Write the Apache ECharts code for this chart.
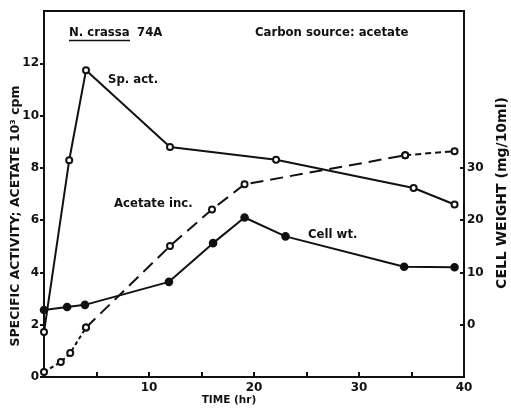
<!DOCTYPE html>
<html>
<head>
<meta charset="utf-8">
<script src="https://cdn.jsdelivr.net/npm/echarts@6/dist/echarts.min.js"></script>
<style>
html,body{margin:0;padding:0;background:#fff;}
#chart{width:511px;height:408px;}
</style>
</head>
<body>
<div id="chart"></div>
<script>
// Data
const spActHours = [0, 2.4, 4.0, 12.0, 22.1, 35.2, 39.1];
const spActValues = [1.72, 8.29, 11.73, 8.80, 8.31, 7.23, 6.6];

const acetateHours = [0, 1.6, 2.5, 4.0, 12.0, 16.0, 19.1, 34.4, 39.1];
const acetateValues = [0.19, 0.57, 0.92, 1.89, 5.01, 6.41, 7.37, 8.48, 8.64];

const cellHours = [0, 2.2, 3.9, 11.9, 16.1, 19.1, 23.0, 34.3, 39.1];
const cellValues = [2.8, 3.4, 3.8, 8.2, 15.6, 20.5, 16.9, 11.1, 11.0];

const xTickLabels = [10, 20, 30, 40];
const leftTickLabels = [0, 2, 4, 6, 8, 10, 12];
const rightTickLabels = [0, 10, 20, 30];

const pairs = (xs, ys) => xs.map((x, i) => [x, ys[i]]);
const acetatePts = pairs(acetateHours, acetateValues);

const ink = '#111';
const font = 'DejaVu Sans';

const chart = echarts.init(document.getElementById('chart'));

function lineSeries(name, data, yIdx, symbol, size, dash, z) {
  return {
    name, type: 'line', data, yAxisIndex: yIdx, clip: false, z: z || 2,
    symbol, symbolSize: size, showSymbol: true,
    lineStyle: { color: ink, width: 2, type: dash },
    itemStyle: { color: ink, borderColor: ink, borderWidth: 1.6 },
    emphasis: { disabled: true },
    animation: false
  };
}

chart.setOption({
  backgroundColor: '#fff',
  animation: false,
  grid: { left: 44, right: 47, top: 11, bottom: 31, show: true, borderColor: ink, borderWidth: 2, backgroundColor: 'transparent' },
  xAxis: {
    type: 'value', min: 0, max: 40, interval: 5,
    axisLine: { lineStyle: { color: ink, width: 2 } },
    axisTick: { inside: true, length: 5, lineStyle: { color: ink, width: 2 } },
    axisLabel: {
      color: ink, fontFamily: font, fontWeight: 'bold', fontSize: 12, margin: 5,
      formatter: v => xTickLabels.includes(v) ? String(v) : ''
    },
    splitLine: { show: false }
  },
  yAxis: [
    {
      type: 'value', min: 0, max: 14, interval: 2,
      axisLine: { show: true, lineStyle: { color: ink, width: 2 } },
      axisTick: { show: true, length: 4, lineStyle: { color: ink, width: 2 }, customValues: leftTickLabels },
      axisLabel: { color: ink, fontFamily: font, fontWeight: 'bold', fontSize: 12, margin: 5, customValues: leftTickLabels },
      splitLine: { show: false }
    },
    {
      type: 'value', min: -10, max: 60, interval: 10, position: 'right',
      axisLine: { show: true, lineStyle: { color: ink, width: 2 } },
      axisTick: { show: true, inside: true, length: 4, lineStyle: { color: ink, width: 2 }, customValues: rightTickLabels },
      axisLabel: { color: ink, fontFamily: font, fontWeight: 'bold', fontSize: 12, margin: 3, customValues: rightTickLabels },
      splitLine: { show: false }
    }
  ],
  series: [
    lineSeries('Sp. act.', pairs(spActHours, spActValues), 0, 'emptyCircle', 6, 'solid', 3),
    lineSeries('Acetate inc. a', acetatePts.slice(0, 4), 0, 'emptyCircle', 6, [4, 3], 3),
    lineSeries('Acetate inc. b', acetatePts.slice(3, 8), 0, 'emptyCircle', 6, [13, 7], 3),
    lineSeries('Acetate inc. c', acetatePts.slice(7), 0, 'emptyCircle', 6, [6, 4], 3),
    lineSeries('Cell wt.', pairs(cellHours, cellValues), 1, 'circle', 7, 'solid', 2)
  ],
  graphic: [
    { type: 'text', left: 69, top: 27, style: { text: 'N. crassa', font: 'bold 11.7px "DejaVu Sans"', fill: ink } },
    { type: 'line', shape: { x1: 69, y1: 40.5, x2: 130, y2: 40.5 }, style: { stroke: ink, lineWidth: 1.5 } },
    { type: 'text', left: 137, top: 27, style: { text: '74A', font: 'bold 11.7px "DejaVu Sans"', fill: ink } },
    { type: 'text', left: 255, top: 27, style: { text: 'Carbon source: acetate', font: 'bold 11.7px "DejaVu Sans"', fill: ink } },
    { type: 'text', left: 108, top: 74, style: { text: 'Sp. act.', font: 'bold 11.7px "DejaVu Sans"', fill: ink } },
    { type: 'text', left: 114, top: 198, style: { text: 'Acetate inc.', font: 'bold 11.7px "DejaVu Sans"', fill: ink } },
    { type: 'text', left: 308, top: 229, style: { text: 'Cell wt.', font: 'bold 11.7px "DejaVu Sans"', fill: ink } },
    { type: 'text', x: 229, y: 400, style: { text: 'TIME (hr)', font: 'bold 10.5px "DejaVu Sans"', fill: ink, align: 'center', verticalAlign: 'middle' } },
    { type: 'text', x: 16, y: 216, rotation: Math.PI / 2, style: { text: 'SPECIFIC ACTIVITY; ACETATE 10\u00B3 cpm', font: 'bold 12.5px "DejaVu Sans"', fill: ink, align: 'center', verticalAlign: 'middle' } },
    { type: 'text', x: 502, y: 193, rotation: Math.PI / 2, style: { text: 'CELL WEIGHT (mg/10ml)', font: 'bold 14px "DejaVu Sans"', fill: ink, align: 'center', verticalAlign: 'middle' } }
  ]
});
</script>
</body>
</html>
